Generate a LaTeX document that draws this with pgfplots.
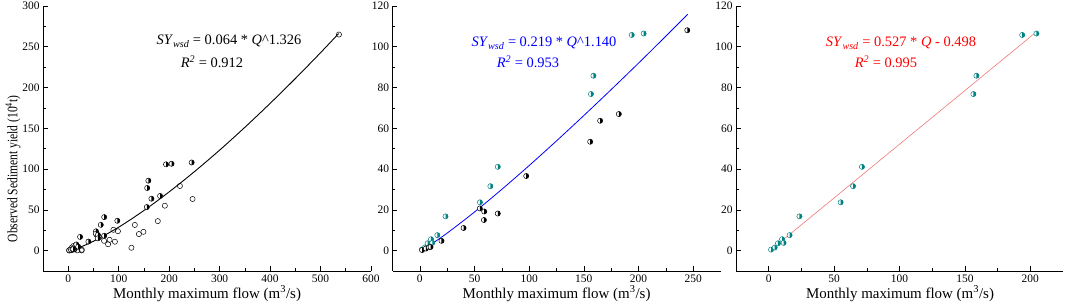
\documentclass[border=0pt]{standalone}
\usepackage{pgfplots}
\pgfplotsset{compat=1.18}
\usepackage{fontspec}
\setmainfont{Liberation Serif}
\definecolor{tealc}{RGB}{0,128,128}
\definecolor{fitred}{RGB}{240,120,120}
\pgfdeclareplotmark{rhalf}{%
  \begin{pgfscope}\pgfsetfillcolor{white}\pgfpathcircle{\pgfpointorigin}{\pgfplotmarksize}\pgfusepathqfill\end{pgfscope}%
  \pgfpathmoveto{\pgfqpoint{0pt}{\pgfplotmarksize}}%
  \pgfpatharc{90}{-90}{\pgfplotmarksize}%
  \pgfpathclose
  \pgfusepathqfill
  \pgfpathcircle{\pgfpointorigin}{\pgfplotmarksize}%
  \pgfusepathqstroke
}
\pgfplotsset{myax/.style={scale only axis, anchor=south west,
  axis x line*=bottom, axis y line*=left,
  axis line style={-, line width=0.6pt},
  tick align=inside, minor tick num=1,
  major tick length=4.5bp, minor tick length=2.5bp,
  tick style={line width=0.6pt, black},
  tick label style={font=\fontsize{11.5}{12}\selectfont},
  /pgf/number format/assume math mode=true,
  clip=false, height=265bp, scaled ticks=false}}
\pgfplotstableread{
x y
1.8 0.5
4.6 1.5
7.1 3.6
10.2 5.6
11.4 3.8
16.0 7.6
23.5 16.8
55.0 23.7
64.5 31.6
71.3 41.1
156.5 76.8
158.8 85.8
193.8 105.8
204.7 106.5
}\teal
\pgfplotstableread{
x y
2.1 0.3
5.5 1.0
8.5 1.6
9.8 1.8
19.8 4.8
40.0 11.1
54.9 20.7
58.9 19.2
58.6 15.0
71.3 18.2
97.3 36.6
155.8 53.4
164.9 63.7
182.0 67.0
244.6 108.1
}\blackpts
\pgfplotstableread{
x y
536.5 265
221.3 79.3
246.4 63.3
191.5 55.1
177.5 36.2
132 31.5
149 23
140 20.3
125.2 3.5
98.5 23.8
92.5 10.9
89.5 25.5
82 13.2
79 7.8
71 12
62 16.5
56 19.5
27 1
18 0.3
12 1.5
8 3.5
5 0.5
2 0.2
15 4.5
6.7 0.5
13 2
26.5 0.2
}\openpts
\begin{document}
\begin{tikzpicture}
\path[use as bounding box] (0,0) rectangle (1065bp,307bp);
% Panel 1
\begin{axis}[myax, at={(43bp,36bp)}, width=328bp,
  xmin=-50, xmax=600, ymin=-25, ymax=300,
  xtick={0,100,...,600}, ytick={0,50,...,300}]
\addplot[only marks, mark=o, mark size=2.6bp, black, line width=0.5pt] table {\openpts};
\addplot[only marks, mark=rhalf, mark size=2.6bp, black, line width=0.5pt] table {\teal};
\addplot[only marks, mark=rhalf, mark size=2.6bp, black, line width=0.5pt] table {\blackpts};
\addplot[black, line width=0.9pt, smooth, no marks] coordinates {
(5,0.54) (10,1.36) (25,4.57) (50,11.46) (100,28.71) (150,49.18) (200,72.04) (250,96.8) (300,123.2) (350,151.2) (400,180.5) (450,211.0) (500,242.7) (536,266.3)};
\end{axis}
% Panel 2
\begin{axis}[myax, at={(392.5bp,36bp)}, width=328bp,
  xmin=-25, xmax=275, ymin=-10, ymax=120,
  xtick={0,50,...,250}, ytick={0,20,...,120}]
\addplot[only marks, mark=rhalf, mark size=2.6bp, tealc, line width=0.5pt] table {\teal};
\addplot[only marks, mark=rhalf, mark size=2.6bp, black, line width=0.5pt] table {\blackpts};
\addplot[blue, line width=0.8pt, smooth, no marks] coordinates {
(5,1.37) (10,3.02) (25,8.59) (50,18.94) (75,30.07) (100,41.73) (125,53.83) (150,66.27) (175,79.0) (200,91.96) (225,105.2) (245,115.9)};
\end{axis}
% Panel 3
\begin{axis}[myax, at={(736bp,36bp)}, width=327bp,
  xmin=-25, xmax=225, ymin=-10, ymax=120,
  xtick={0,50,...,200}, ytick={0,20,...,120}]
\addplot[fitred, line width=0.6pt, no marks] coordinates {(10,4.77) (205,107.5)};
\addplot[only marks, mark=rhalf, mark size=2.6bp, tealc, line width=0.5pt] table {\teal};
\end{axis}
% Texts
\node[anchor=base, font=\fontsize{14.5}{16}\selectfont] at (229bp,262bp) {\textit{SY}\textsubscript{\textit{wsd}} = 0.064 * \textit{Q}\textasciicircum 1.326};
\node[anchor=base, font=\fontsize{14.5}{16}\selectfont] at (212bp,239bp) {\textit{R\textsuperscript{2}} = 0.912};
\node[anchor=base, font=\fontsize{14.5}{16}\selectfont, blue] at (544bp,260bp) {\textit{SY}\textsubscript{\textit{wsd}} = 0.219 * \textit{Q}\textasciicircum 1.140};
\node[anchor=base, font=\fontsize{14.5}{16}\selectfont, blue] at (528bp,239bp) {\textit{R\textsuperscript{2}} = 0.953};
\node[anchor=base, font=\fontsize{14.5}{16}\selectfont, red] at (901bp,260bp) {\textit{SY}\textsubscript{\textit{wsd}} = 0.527 * \textit{Q} - 0.498};
\node[anchor=base, font=\fontsize{14.5}{16}\selectfont, red] at (886bp,239bp) {\textit{R\textsuperscript{2}} = 0.995};
\node[anchor=base, font=\fontsize{15}{16}\selectfont] at (207bp,9bp) {Monthly maximum flow (m\textsuperscript{3}/s)};
\node[anchor=base, font=\fontsize{15}{16}\selectfont] at (556.5bp,9bp) {Monthly maximum flow (m\textsuperscript{3}/s)};
\node[anchor=base, font=\fontsize{15}{16}\selectfont] at (900bp,9bp) {Monthly maximum flow (m\textsuperscript{3}/s)};
\node[rotate=90, xscale=0.8, anchor=center, font=\fontsize{14.5}{16}\selectfont] at (13bp,138bp) {Observed Sediment yield (10\textsuperscript{4}t)};
\end{tikzpicture}
\end{document}
